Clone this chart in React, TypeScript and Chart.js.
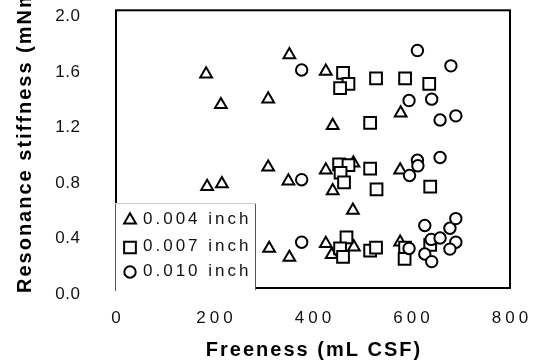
import React, { useEffect, useRef } from "react";
import { Chart, registerables } from "chart.js";

Chart.register(...registerables);

// 0.004 inch (triangles)
const triFreeness = [183, 213, 309, 352, 426, 440, 578, 185, 215, 309, 350, 426, 440, 482, 481, 577, 311, 352, 426, 438, 483, 577];
const triStiffness = [1.54, 1.32, 1.36, 1.68, 1.56, 1.17, 1.26, 0.73, 0.75, 0.87, 0.77, 0.85, 0.7, 0.9, 0.56, 0.85, 0.285, 0.22, 0.32, 0.24, 0.295, 0.33];

// 0.007 inch (squares)
const sqFreeness = [461, 472, 455, 528, 587, 636, 516, 453, 472, 456, 463, 516, 529, 638, 468, 455, 461, 516, 528, 587, 586, 638];
const sqStiffness = [1.55, 1.47, 1.44, 1.51, 1.51, 1.47, 1.19, 0.89, 0.885, 0.83, 0.76, 0.86, 0.71, 0.73, 0.365, 0.285, 0.225, 0.27, 0.29, 0.29, 0.21, 0.31];

// 0.010 inch (circles)
const cirFreeness = [377, 612, 680, 595, 641, 658, 690, 377, 612, 613, 596, 658, 377, 595, 627, 640, 658, 678, 690, 690, 678, 627, 641];
const cirStiffness = [1.57, 1.71, 1.6, 1.35, 1.36, 1.21, 1.24, 0.78, 0.92, 0.88, 0.81, 0.94, 0.33, 0.285, 0.45, 0.35, 0.36, 0.43, 0.5, 0.33, 0.28, 0.245, 0.19];

const legendLabels = ["0.004 inch", "0.007 inch", "0.010 inch"];
const xTicks = [0, 200, 400, 600, 800];
const yTicks = [0, 0.4, 0.8, 1.2, 1.6, 2.0];
const xTitle = "Freeness (mL CSF)";
const yTitle = "Resonance stiffness (mNm)";

const toPoints = (xs: number[], ys: number[]) => xs.map((x, i) => ({ x, y: ys[i] }));

const FONT = '"Liberation Sans", Arial, Helvetica, sans-serif';

function drawMarker(ctx: CanvasRenderingContext2D, style: string, x: number, y: number, r: number) {
  ctx.beginPath();
  if (style === "triangle") {
    let rad = 0;
    ctx.moveTo(x + Math.sin(rad) * r, y - Math.cos(rad) * r);
    rad += (2 * Math.PI) / 3;
    ctx.lineTo(x + Math.sin(rad) * r, y - Math.cos(rad) * r);
    rad += (2 * Math.PI) / 3;
    ctx.lineTo(x + Math.sin(rad) * r, y - Math.cos(rad) * r);
    ctx.closePath();
  } else if (style === "rect") {
    const s = Math.SQRT1_2 * r;
    ctx.rect(x - s, y - s, 2 * s, 2 * s);
  } else {
    ctx.arc(x, y, r, 0, Math.PI * 2);
  }
  ctx.fillStyle = "#fff";
  ctx.fill();
  ctx.lineWidth = 2;
  ctx.strokeStyle = "#000";
  ctx.stroke();
}

const decorPlugin = {
  id: "decor",
  afterDraw(chart: any) {
    const ctx: CanvasRenderingContext2D = chart.ctx;
    const ca = chart.chartArea;
    const xs = chart.scales.x;
    const ys = chart.scales.y;
    ctx.save();

    // plot frame
    ctx.strokeStyle = "#000";
    ctx.lineWidth = 2;
    ctx.strokeRect(ca.left, ca.top, ca.right - ca.left, ca.bottom - ca.top);

    // legend box
    const lx = ca.left - 1;
    const ly = ca.bottom - 85;
    const lw = 141;
    const lh = 88;
    ctx.fillStyle = "#fff";
    ctx.fillRect(lx - 1, ly, lw + 1, lh);
    ctx.lineWidth = 1;
    ctx.strokeStyle = "#555";
    ctx.beginPath();
    ctx.moveTo(lx + 0.5, ly);
    ctx.lineTo(lx + 0.5, ly + lh);
    ctx.moveTo(lx + lw - 0.5, ly);
    ctx.lineTo(lx + lw - 0.5, ly + lh - 1);
    ctx.stroke();
    ctx.strokeStyle = "#ccc";
    ctx.beginPath();
    ctx.moveTo(lx, ly + 0.5);
    ctx.lineTo(lx + lw, ly + 0.5);
    ctx.stroke();

    const styles = ["triangle", "rect", "circle"];
    const radii = [6.8, 8.3, 5.7];
    const rowY = [ly + 16, ly + 43.5, ly + 68];
    (ctx as any).letterSpacing = "3px";
    ctx.font = `17px ${FONT}`;
    ctx.textAlign = "left";
    ctx.textBaseline = "middle";
    legendLabels.forEach((lab, i) => {
      drawMarker(ctx, styles[i], lx + 15, rowY[i] + 1, radii[i]);
      ctx.fillStyle = "#111";
      ctx.fillText(lab, lx + 28, rowY[i]);
    });

    // x tick labels
    (ctx as any).letterSpacing = "4px";
    ctx.font = `17px ${FONT}`;
    ctx.fillStyle = "#111";
    ctx.textAlign = "center";
    ctx.textBaseline = "middle";
    xTicks.forEach((v) => {
      ctx.fillText(String(v), xs.getPixelForValue(v) + 2, ca.bottom + 30);
    });

    // y tick labels
    (ctx as any).letterSpacing = "0.5px";
    ctx.textAlign = "right";
    yTicks.forEach((v) => {
      ctx.fillText(v.toFixed(1), 80.5, ys.getPixelForValue(v) + 6);
    });

    // axis titles
    (ctx as any).letterSpacing = "2px";
    ctx.font = `bold 20px ${FONT}`;
    ctx.fillStyle = "#000";
    ctx.textAlign = "center";
    ctx.textBaseline = "alphabetic";
    ctx.fillText(xTitle, (ca.left + ca.right) / 2 + 1, 356);

    ctx.translate(31, 293);
    ctx.rotate(-Math.PI / 2);
    ctx.textAlign = "left";
    ctx.fillText(yTitle, 0, 0);

    (ctx as any).letterSpacing = "0px";
    ctx.restore();
  },
};

export default function App() {
  const ref = useRef<HTMLCanvasElement | null>(null);
  useEffect(() => {
    if (!ref.current) return;
    const common = {
      backgroundColor: "#fff",
      borderColor: "#000",
      borderWidth: 2,
      pointHoverRadius: 6,
    };
    const chart = new Chart(ref.current, {
      type: "scatter",
      data: {
        datasets: [
          { label: legendLabels[0], data: toPoints(triFreeness, triStiffness), pointStyle: "triangle", pointRadius: 6.8, ...common, order: 3 },
          { label: legendLabels[1], data: toPoints(sqFreeness, sqStiffness), pointStyle: "rect", pointRadius: 8.3, ...common, order: 2 },
          { label: legendLabels[2], data: toPoints(cirFreeness, cirStiffness), pointStyle: "circle", pointRadius: 5.7, ...common, order: 1 },
        ],
      },
      options: {
        responsive: false,
        animation: false,
        devicePixelRatio: 1,
        layout: { padding: { left: 116, right: 29, top: 10, bottom: 76 } },
        plugins: { legend: { display: false }, tooltip: { enabled: false } },
        scales: {
          x: { type: "linear", min: 0, max: 800, display: false },
          y: { type: "linear", min: 0, max: 2, display: false },
        },
      },
      plugins: [decorPlugin],
    });
    return () => chart.destroy();
  }, []);
  return (
    <div style={{ position: "absolute", left: 0, top: 0, width: 539, height: 364, background: "#fff" }}>
      <canvas ref={ref} width={539} height={364} style={{ display: "block" }} />
    </div>
  );
}
